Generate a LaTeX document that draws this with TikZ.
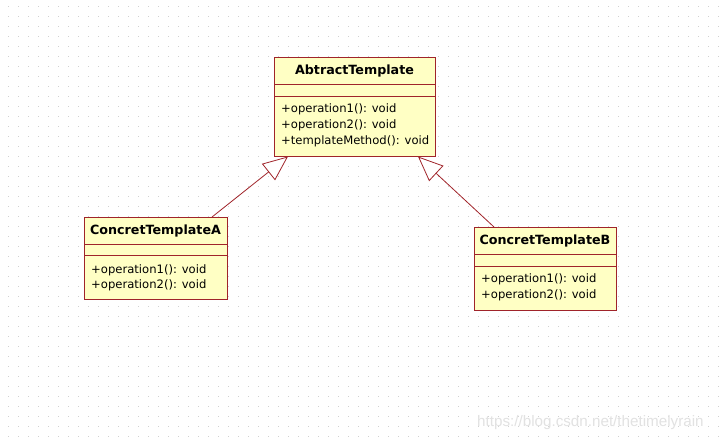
\documentclass[tikz,border=0pt]{standalone}
\usepackage{fontspec}
\setmainfont{DejaVu Sans}
\newfontfamily\wmfont{Liberation Sans}
\usetikzlibrary{arrows.meta}
\definecolor{umlfill}{HTML}{FFFFC4}
\definecolor{umlline}{HTML}{A0242A}
\definecolor{dotc}{HTML}{D0D0D0}
\definecolor{wmc}{HTML}{E2E2E2}
\tikzset{
  umlbox/.style={draw=umlline, fill=umlfill, line width=1pt, inner sep=0pt, anchor=north west},
  sepline/.style={draw=umlline, line width=1pt},
  titletxt/.style={inner sep=0pt, font=\fontsize{12.7}{14}\selectfont\bfseries},
  optxt/.style={inner sep=0pt, anchor=west, font=\fontsize{11.6}{13}\selectfont},
  inherit/.style={draw=umlline, line width=0.8pt, -{Triangle[open, length=25pt, width=21pt, fill=white]}},
}
\begin{document}
\begin{tikzpicture}[x=1pt,y=-1pt]
\useasboundingbox (0,0) rectangle (720,440);
\fill[white] (0,0) rectangle (720,440);
\foreach \i in {0,...,71}{\foreach \j in {0,...,43}{\fill[dotc] (7.5+10*\i, 5.5+10*\j) rectangle ++(1,1);}}
% AbtractTemplate
\node[umlbox, minimum width=161pt, minimum height=99pt] (abs) at (274,57) {};
\draw[sepline] (274,84) -- (435,84);
\draw[sepline] (274,96) -- (435,96);
\node[titletxt] (absT) at (354.5,70.5) {AbtractTemplate};
\node[optxt] (absO1) at (281,109) {+operation1(): void};
\node[optxt] (absO2) at (281,125) {+operation2(): void};
\node[optxt] (absO3) at (281,141) {+templateMethod(): void};
% ConcretTemplateA
\node[umlbox, minimum width=143pt, minimum height=82pt] (ca) at (84,217) {};
\draw[sepline] (84,244) -- (227,244);
\draw[sepline] (84,255) -- (227,255);
\node[titletxt] (caT) at (155.5,231) {ConcretTemplateA};
\node[optxt] (caO1) at (91,270) {+operation1(): void};
\node[optxt] (caO2) at (91,285) {+operation2(): void};
% ConcretTemplateB
\node[umlbox, minimum width=142pt, minimum height=83pt] (cb) at (474,227) {};
\draw[sepline] (474,254) -- (616,254);
\draw[sepline] (474,266) -- (616,266);
\node[titletxt] (cbT) at (545,240.5) {ConcretTemplateB};
\node[optxt] (cbO1) at (481,279) {+operation1(): void};
\node[optxt] (cbO2) at (481,295) {+operation2(): void};
% connectors
\coordinate (caTop) at (212,217);
\coordinate (cbTop) at (494,227);
\coordinate (absL) at (288,156.5);
\coordinate (absR) at (418,156.5);
\draw[inherit] (caTop) -- (absL);
\draw[inherit] (cbTop) -- (absR);
% watermark
\node[inner sep=0pt, anchor=west, text=wmc, font=\wmfont\fontsize{15.2}{17}\selectfont] (wm) at (477,423) {https://blog.csdn.net/thetimelyrain};
\end{tikzpicture}
\end{document}
